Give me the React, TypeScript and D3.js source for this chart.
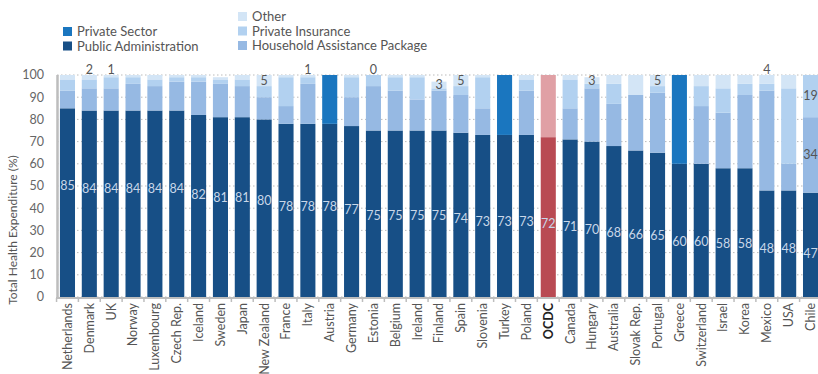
import React from "react";
import * as d3 from "d3";

const countries = ["Netherlands","Denmark","UK","Norway","Luxembourg","Czech Rep.","Iceland","Sweden","Japan","New Zealand","France","Italy","Austria","Germany","Estonia","Belgium","Ireland","Finland","Spain","Slovenia","Turkey","Poland","OCDC","Canada","Hungary","Australia","Slovak Rep.","Portugal","Greece","Switzerland","Israel","Korea","Mexico","USA","Chile"];
const publicAdmin = [85,84,84,84,84,84,82,81,81,80,78,78,78,77,75,75,75,75,74,73,73,73,72,71,70,68,66,65,60,60,58,58,48,48,47];
const household = [8,10,10,12,11,13,15,15,14,10,8,18,0,13,20,18,14,18,17,12,0,20,0,14,24,19,25,27,0,26,25,33,45,12,34];
const privateInsurance = [5,4,5,3,3,2,2,2,3,5,13,3,0,9,5,6,10,1,4,14,0,5,0,13,2,9,0,3,0,9,11,5,3,34,19];
const other = [2,2,1,1,2,1,1,1,2,5,1,1,0,1,0,1,1,3,5,1,0,2,0,2,3,4,9,5,0,5,6,4,4,6,0];
const privateSector = [0,0,0,0,0,0,0,0,0,0,0,0,22,0,0,0,0,0,0,0,27,0,28,0,0,0,0,0,40,0,0,0,0,0,0];
const otherLabelAbove = ["Denmark","UK","Italy","Estonia","Mexico"];
const otherLabelInside = ["New Zealand","Finland","Spain","Hungary","Portugal"];
const segmentLabels = ["Chile"];
const yTicks = [0,10,20,30,40,50,60,70,80,90,100];

const C = {
  pub: "#174f86",
  priv: "#1a76bf",
  other: "#d3e5f6",
  ins: "#b2d1f0",
  hh: "#96b9e3",
  oecd: "#b94a53",
  oecdTop: "#e0a0a5",
};

const FONT = "Lato, 'Open Sans', sans-serif";

export default function App() {
  const W = 818, H = 374;
  const x = d3.scaleBand<string>().domain(countries).range([56, 822]).paddingInner(0.31).paddingOuter(0.18);
  const y = d3.scaleLinear().domain([0, 100]).range([297, 75]);
  const labelLevel = d3.scaleLinear().domain([47, 48, 60, 70, 85]).range([19.5, 21.6, 24.8, 30.2, 50]);
  const bw = x.bandwidth();

  const bars = countries.map((c, i) => {
    const isO = c === "OCDC";
    const segs = [
      { key: "pub", v: publicAdmin[i], color: isO ? C.oecd : C.pub },
      { key: "hh", v: household[i], color: C.hh },
      { key: "ins", v: privateInsurance[i], color: C.ins },
      { key: "other", v: other[i], color: C.other },
      { key: "priv", v: privateSector[i], color: isO ? C.oecdTop : C.priv },
    ];
    let acc = 0;
    const out = segs.map((s) => {
      const y0 = acc;
      acc += s.v;
      return { ...s, y0, y1: acc };
    });
    return { c, i, segs: out, total: acc };
  });

  const legendLeft = [
    { label: "Private Sector", color: C.priv },
    { label: "Public Administration", color: C.pub },
  ];
  const legendRight = [
    { label: "Other", color: C.other },
    { label: "Private Insurance", color: C.ins },
    { label: "Household Assistance Package", color: C.hh },
  ];

  const bandEdges = countries.map((c) => (x(c) as number) - (x.step() - bw) / 2).concat([(x(countries[countries.length - 1]) as number) + bw + (x.step() - bw) / 2]);

  return (
    <svg width={W} height={H} style={{ display: "block", position: "absolute", left: 0, top: 0 }} fontFamily={FONT}>
      <rect width={W} height={H} fill="#fff" />
      {legendLeft.map((l, k) => (
        <g key={l.label} transform={`translate(63, ${27 + k * 14.5})`}>
          <rect width={9} height={9} fill={l.color} />
          <text x={14} y={9} fontSize={13} fill="#555">{l.label}</text>
        </g>
      ))}
      {legendRight.map((l, k) => (
        <g key={l.label} transform={`translate(238, ${12 + k * 14.5})`}>
          <rect width={9} height={9} fill={l.color} />
          <text x={14} y={9} fontSize={13} fill="#555">{l.label}</text>
        </g>
      ))}
      {yTicks.map((t) => (
        <g key={t}>
          <line x1={57} x2={818} y1={y(t)} y2={y(t)} stroke="#bbb" strokeDasharray="1.5,2.5" strokeWidth={1} />
          <text x={44} y={y(t)} dy="0.35em" textAnchor="end" fontSize={12.5} fill="#666">{t}</text>
        </g>
      ))}
      <text transform={`translate(17, ${y(-3.5)}) rotate(-90)`} textAnchor="start" fontSize={12} fill="#555">Total Health Expenditure (%)</text>
      {bars.map((b) => (
        <g key={b.c}>
          {b.segs.filter((s) => s.v > 0).map((s) => (
            <rect key={s.key} x={x(b.c)} y={y(s.y1)} width={bw} height={y(s.y0) - y(s.y1)} fill={s.color} />
          ))}
          <text x={(x(b.c) as number) + bw / 2} y={y(labelLevel(publicAdmin[b.i]))} dy="0.35em" textAnchor="middle" fontSize={12.5} fill="#c9d7e8">{publicAdmin[b.i]}</text>
          {otherLabelAbove.includes(b.c) && (
            <text x={(x(b.c) as number) + bw / 2} y={y(b.total)} dy="-1" textAnchor="middle" fontSize={12.5} fill="#555">{other[b.i]}</text>
          )}
          {otherLabelInside.includes(b.c) && (
            <text x={(x(b.c) as number) + bw / 2} y={y(b.segs[3].y0 + b.segs[3].v / 2)} dy="0.35em" textAnchor="middle" fontSize={12.5} fill="#555">{other[b.i]}</text>
          )}
          {segmentLabels.includes(b.c) && [b.segs[1], b.segs[2]].map((s) => (
            <text key={s.key} x={(x(b.c) as number) + bw / 2} y={y(s.y0 + s.v / 2)} dy="0.35em" textAnchor="middle" fontSize={12.5} fill="#555">{s.v}</text>
          ))}
        </g>
      ))}
      <line x1={57.5} x2={57.5} y1={y(100)} y2={y(0) + 1} stroke="#bdbdbd" strokeWidth={2.5} />
      <line x1={56} x2={818} y1={y(0) + 1} y2={y(0) + 1} stroke="#bdbdbd" strokeWidth={2} />
      {bandEdges.map((e, k) => (
        <line key={k} x1={e} x2={e} y1={y(0) + 1} y2={y(0) + 5} stroke="#bdbdbd" strokeWidth={1.5} />
      ))}
      {countries.map((c) => (
        <text key={c} transform={`translate(${(x(c) as number) + bw / 2}, 303) rotate(-90)`} textAnchor="end" dy="0.35em" fontSize={12.5}
          fill={c === "OCDC" ? "#222" : "#555"} fontWeight={c === "OCDC" ? 700 : 400}>{c}</text>
      ))}
    </svg>
  );
}
